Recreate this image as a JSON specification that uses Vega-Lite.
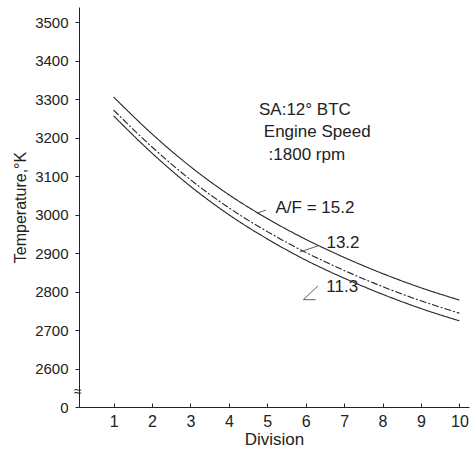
{
  "$schema": "https://vega.github.io/schema/vega-lite/v6.json",
  "width": 390,
  "height": 400,
  "autosize": {"type": "none"},
  "padding": {"left": 79, "top": 7, "right": 4, "bottom": 49},
  "background": "white",
  "config": {
    "view": {"stroke": null},
    "font": "Liberation Sans",
    "axis": {"grid": false, "domainColor": "#222", "tickColor": "#222", "labelColor": "#222", "titleColor": "#222", "titleFontWeight": "normal", "labelOverlap": false}
  },
  "datasets": {
    "curves": [
      {"division": 1, "temp": 3306, "af": "15.2"},
      {"division": 2, "temp": 3210, "af": "15.2"},
      {"division": 3, "temp": 3125, "af": "15.2"},
      {"division": 4, "temp": 3052, "af": "15.2"},
      {"division": 5, "temp": 2990, "af": "15.2"},
      {"division": 6, "temp": 2936, "af": "15.2"},
      {"division": 7, "temp": 2889, "af": "15.2"},
      {"division": 8, "temp": 2847, "af": "15.2"},
      {"division": 9, "temp": 2810, "af": "15.2"},
      {"division": 10, "temp": 2778, "af": "15.2"},
      {"division": 1, "temp": 3272, "af": "13.2"},
      {"division": 2, "temp": 3176, "af": "13.2"},
      {"division": 3, "temp": 3091, "af": "13.2"},
      {"division": 4, "temp": 3018, "af": "13.2"},
      {"division": 5, "temp": 2956, "af": "13.2"},
      {"division": 6, "temp": 2902, "af": "13.2"},
      {"division": 7, "temp": 2855, "af": "13.2"},
      {"division": 8, "temp": 2813, "af": "13.2"},
      {"division": 9, "temp": 2776, "af": "13.2"},
      {"division": 10, "temp": 2744, "af": "13.2"},
      {"division": 1, "temp": 3257, "af": "11.3"},
      {"division": 2, "temp": 3160, "af": "11.3"},
      {"division": 3, "temp": 3074, "af": "11.3"},
      {"division": 4, "temp": 3000, "af": "11.3"},
      {"division": 5, "temp": 2937, "af": "11.3"},
      {"division": 6, "temp": 2882, "af": "11.3"},
      {"division": 7, "temp": 2835, "af": "11.3"},
      {"division": 8, "temp": 2793, "af": "11.3"},
      {"division": 9, "temp": 2756, "af": "11.3"},
      {"division": 10, "temp": 2724, "af": "11.3"}
    ],
    "notes": [
      {"x": 5.98, "y": 3272, "label": "SA:12° BTC", "size": 17},
      {"x": 6.3, "y": 3215, "label": "Engine Speed", "size": 17},
      {"x": 6.03, "y": 3155, "label": ":1800 rpm", "size": 17},
      {"x": 6.24, "y": 3017, "label": "A/F = 15.2", "size": 17},
      {"x": 6.97, "y": 2926, "label": "13.2", "size": 17},
      {"x": 6.95, "y": 2812, "label": "11.3", "size": 17},
      {"x": 0.07, "y": 2538, "label": "≈", "size": 14}
    ],
    "leaders": [
      {"x": 4.73, "y": 3004, "x2": 4.97, "y2": 3012},
      {"x": 5.85, "y": 2903, "x2": 6.32, "y2": 2919},
      {"x": 6.32, "y": 2815, "x2": 5.94, "y2": 2779},
      {"x": 5.94, "y": 2779, "x2": 6.26, "y2": 2779}
    ]
  },
  "layer": [
    {
      "data": {"name": "curves"},
      "mark": {"type": "line", "color": "#222", "strokeWidth": 1.1, "interpolate": "monotone"},
      "encoding": {
        "x": {
          "field": "division", "type": "quantitative",
          "scale": {"domain": [0.1, 10.25], "nice": false, "zero": false},
          "axis": {"values": [1, 2, 3, 4, 5, 6, 7, 8, 9, 10], "tickCount": 30, "format": "d", "title": "Division", "labelFontSize": 16, "titleFontSize": 17, "tickSize": -4, "labelPadding": 10, "titlePadding": 2, "labelFlush": false, "labelOverlap": false}
        },
        "y": {
          "field": "temp", "type": "quantitative",
          "scale": {"domain": [2500, 3540], "nice": false, "zero": false},
          "axis": {"values": [2500, 2600, 2700, 2800, 2900, 3000, 3100, 3200, 3300, 3400, 3500], "tickCount": 30, "format": "d", "labelExpr": "datum.value == 2500 ? '0' : datum.label", "title": "Temperature,°K", "labelFontSize": 15, "titleFontSize": 16, "tickSize": 4, "labelPadding": 7, "titlePadding": 6, "labelFlush": false, "labelOverlap": false, "labelBound": false}
        },
        "detail": {"field": "af"},
        "strokeDash": {"field": "af", "type": "nominal", "scale": {"domain": ["15.2", "13.2", "11.3"], "range": [[1, 0], [7, 2, 2, 2], [1, 0]]}, "legend": null}
      }
    },
    {
      "data": {"name": "leaders"},
      "mark": {"type": "rule", "color": "#333", "strokeWidth": 0.8},
      "encoding": {
        "x": {"field": "x", "type": "quantitative"},
        "y": {"field": "y", "type": "quantitative"},
        "x2": {"field": "x2"},
        "y2": {"field": "y2"}
      }
    },
    {
      "data": {"name": "notes"},
      "mark": {"type": "text", "color": "#222", "align": "center", "baseline": "middle", "clip": false},
      "encoding": {
        "x": {"field": "x", "type": "quantitative"},
        "y": {"field": "y", "type": "quantitative"},
        "text": {"field": "label"},
        "size": {"field": "size", "type": "quantitative", "scale": null}
      }
    }
  ]
}
